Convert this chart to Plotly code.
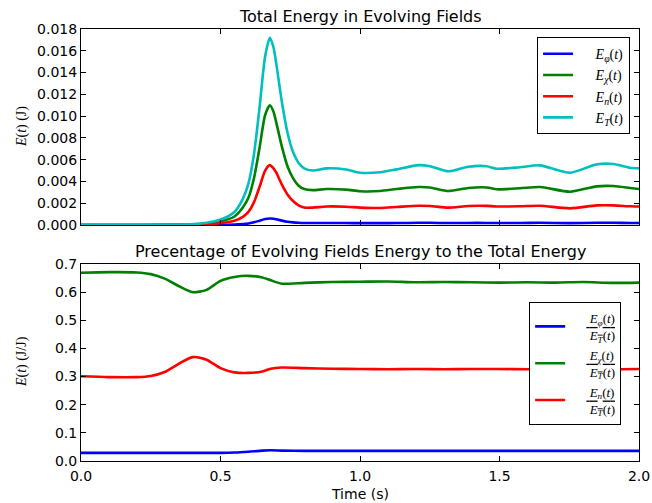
import plotly.graph_objects as go
from plotly.subplots import make_subplots

# ---- data ----
t_top = [0, 0.2, 0.3, 0.35, 0.4, 0.45, 0.5, 0.55, 0.58, 0.6,
         0.62, 0.64, 0.66, 0.677, 0.69, 0.7, 0.72, 0.74, 0.76, 0.78,
         0.8, 0.83, 0.88, 0.95, 1.0, 1.072, 1.131, 1.209, 1.251, 1.317,
         1.388, 1.454, 1.49, 1.573, 1.645, 1.753, 1.848, 1.908, 1.968, 2.0]
E_T = [0, 0, 0.00001, 0.00003, 0.00008, 0.0002, 0.0005, 0.0012, 0.0024, 0.0038,
       0.0065, 0.0108, 0.0155, 0.0172, 0.0163, 0.0148, 0.0113, 0.0085, 0.0067, 0.0057,
       0.0052, 0.0050, 0.0052, 0.0051, 0.0048, 0.00484, 0.00511, 0.0055, 0.0054, 0.00493,
       0.00535, 0.0054, 0.00517, 0.0053, 0.00548, 0.0048, 0.00557, 0.0056, 0.00526, 0.0052]
E_chi = [0, 0, 0.000007, 0.00002, 0.00005, 0.00013, 0.00032, 0.00078, 0.0016, 0.0025,
         0.0043, 0.0071, 0.0101, 0.0110, 0.0104, 0.0094, 0.0072, 0.0054, 0.0043, 0.0036,
         0.0033, 0.0032, 0.0033, 0.00325, 0.0031, 0.00312, 0.0033, 0.00349, 0.00345, 0.00312,
         0.0034, 0.00345, 0.00328, 0.00337, 0.00349, 0.00306, 0.00355, 0.00358, 0.0034, 0.0033]
E_n = [0, 0, 0.000003, 0.00001, 0.00003, 0.00007, 0.00016, 0.00038, 0.00075, 0.0012,
       0.0021, 0.0035, 0.0050, 0.0055, 0.0052, 0.0048, 0.0037, 0.0028, 0.0022, 0.0018,
       0.0016, 0.0016, 0.0017, 0.00168, 0.0016, 0.00156, 0.00165, 0.00177, 0.00175, 0.0016,
       0.00175, 0.00176, 0.0017, 0.00172, 0.00177, 0.00153, 0.0018, 0.0018, 0.00172, 0.0017]
E_phi = [0, 0, 0, 0, 0.000002, 0.000006, 0.000015, 0.00004, 0.00008, 0.00013,
         0.00025, 0.0004, 0.00055, 0.0006, 0.00058, 0.00053, 0.0004, 0.0003, 0.00024, 0.0002,
         0.00018, 0.00018, 0.00018, 0.00018, 0.00017, 0.00017, 0.00018, 0.0002, 0.0002, 0.00018,
         0.00019, 0.00019, 0.00018, 0.00019, 0.0002, 0.00017, 0.0002, 0.0002, 0.00019, 0.00019]

t_bot = [0, 0.1, 0.2, 0.25, 0.3, 0.35, 0.4, 0.45, 0.5, 0.55,
         0.6, 0.65, 0.68, 0.72, 0.8, 0.9, 1.0, 1.1, 1.2, 1.3,
         1.4, 1.5, 1.6, 1.7, 1.8, 1.9, 2.0]
R_chi = [0.669, 0.671, 0.670, 0.664, 0.648, 0.622, 0.600, 0.608, 0.640, 0.654,
         0.658, 0.652, 0.642, 0.630, 0.633, 0.636, 0.637, 0.638, 0.635, 0.636,
         0.635, 0.634, 0.635, 0.634, 0.636, 0.633, 0.634]
R_n = [0.301, 0.298, 0.298, 0.302, 0.316, 0.345, 0.369, 0.360, 0.330, 0.315,
       0.313, 0.318, 0.328, 0.332, 0.330, 0.328, 0.327, 0.326, 0.327, 0.326,
       0.327, 0.327, 0.326, 0.327, 0.327, 0.326, 0.327]
R_phi = [0.029, 0.029, 0.029, 0.029, 0.029, 0.029, 0.029, 0.029, 0.029, 0.030,
         0.033, 0.037, 0.038, 0.037, 0.036, 0.036, 0.036, 0.036, 0.036, 0.036,
         0.036, 0.036, 0.036, 0.036, 0.036, 0.036, 0.036]

top_ticks = [0.000, 0.002, 0.004, 0.006, 0.008, 0.010, 0.012, 0.014, 0.016, 0.018]
bot_ticks = [0.0, 0.1, 0.2, 0.3, 0.4, 0.5, 0.6, 0.7]
x_ticks = [0.0, 0.5, 1.0, 1.5, 2.0]

BLUE, GREEN, RED, CYAN = "#0000ff", "#008000", "#ff0000", "#00bfbf"
LW = 2.6

SP = "&nbsp;&nbsp;&nbsp;&nbsp;&nbsp;"
top_names = [SP + "<i>E</i><sub><i>φ</i></sub>(<i>t</i>)",
             SP + "<i>E</i><sub><i>χ</i></sub>(<i>t</i>)",
             SP + "<i>E</i><sub><i>n</i></sub>(<i>t</i>)",
             SP + "<i>E</i><sub><i>T</i></sub>(<i>t</i>)"]
den = ("<span style='text-decoration:overline'>&nbsp;<i>E</i><sub><i>T</i></sub>(<i>t</i>)</span>")
bot_names = [SP + "&nbsp;<i>E</i><sub><i>φ</i></sub>(<i>t</i>)<br>" + SP + den,
             SP + "&nbsp;<i>E</i><sub><i>χ</i></sub>(<i>t</i>)<br>" + SP + den,
             SP + "&nbsp;<i>E</i><sub><i>n</i></sub>(<i>t</i>)<br>" + SP + den]

fig = make_subplots(rows=2, cols=1)

for y, c, nm in zip([E_phi, E_chi, E_n, E_T], [BLUE, GREEN, RED, CYAN], top_names):
    fig.add_trace(go.Scatter(x=t_top, y=y, mode="lines", name=nm,
                             line=dict(color=c, width=LW, shape="spline", smoothing=0.7),
                             legend="legend"), row=1, col=1)
for y, c, nm in zip([R_phi, R_chi, R_n], [BLUE, GREEN, RED], bot_names):
    fig.add_trace(go.Scatter(x=t_bot, y=y, mode="lines", name=nm,
                             line=dict(color=c, width=LW, shape="spline", smoothing=0.7),
                             legend="legend2"), row=2, col=1)

ax_common = dict(showline=True, linecolor="black", linewidth=1, mirror="ticks",
                 ticks="inside", ticklen=5, tickcolor="black", showgrid=False,
                 zeroline=False, automargin=False,
                 tickfont=dict(family="DejaVu Sans", size=14, color="black"))

fig.update_xaxes(range=[0, 2], tickvals=x_ticks, domain=[0, 1], **ax_common)
fig.update_xaxes(showticklabels=False, row=1, col=1)
fig.update_xaxes(ticktext=["%.1f" % v for v in x_ticks], ticklabelstandoff=2, row=2, col=1)
fig.update_yaxes(range=[0, 0.018], tickvals=top_ticks,
                 ticktext=["%.3f" % v for v in top_ticks], domain=[0.5463, 1.0],
                 row=1, col=1, **ax_common)
fig.update_yaxes(range=[0, 0.7], tickvals=bot_ticks,
                 ticktext=["%.1f" % v for v in bot_ticks], domain=[0.0, 0.456],
                 row=2, col=1, **ax_common)

leg_common = dict(bgcolor="white", bordercolor="black", borderwidth=1,
                  xanchor="right", yanchor="top", itemwidth=30, tracegroupgap=0)

fig.update_layout(
    width=652, height=503,
    margin=dict(l=81, r=13, t=29, b=42, autoexpand=False),
    paper_bgcolor="white", plot_bgcolor="white",
    legend=dict(x=0.984, y=0.981, font=dict(family="Liberation Serif", size=14, color="black"),
                **leg_common),
    legend2=dict(x=0.968, y=0.368, font=dict(family="Liberation Serif", size=13, color="black"),
                 **leg_common),
    annotations=[
        dict(text="Total Energy in Evolving Fields", xref="paper", yref="paper",
             x=0.5, y=1.0, xanchor="center", yanchor="bottom", yshift=1, showarrow=False,
             font=dict(family="DejaVu Sans", size=16, color="black")),
        dict(text="Precentage of Evolving Fields Energy to the Total Energy", xref="paper", yref="paper",
             x=0.5, y=0.456, xanchor="center", yanchor="bottom", yshift=1, showarrow=False,
             font=dict(family="DejaVu Sans", size=16, color="black")),
        dict(text="Time (s)", xref="paper", yref="paper",
             x=0.5, y=-0.076, xanchor="center", yanchor="middle", showarrow=False,
             font=dict(family="DejaVu Sans", size=14, color="black")),
        dict(text="<i>E</i>(<i>t</i>) (J)", xref="paper", yref="paper",
             x=-0.1057, y=0.773, xanchor="center", yanchor="middle", textangle=-90, showarrow=False,
             font=dict(family="Liberation Serif", size=14, color="black")),
        dict(text="<i>E</i>(<i>t</i>) (J/J)", xref="paper", yref="paper",
             x=-0.1057, y=0.229, xanchor="center", yanchor="middle", textangle=-90, showarrow=False,
             font=dict(family="Liberation Serif", size=14, color="black")),
    ],
)

fig.write_html("out.html")
